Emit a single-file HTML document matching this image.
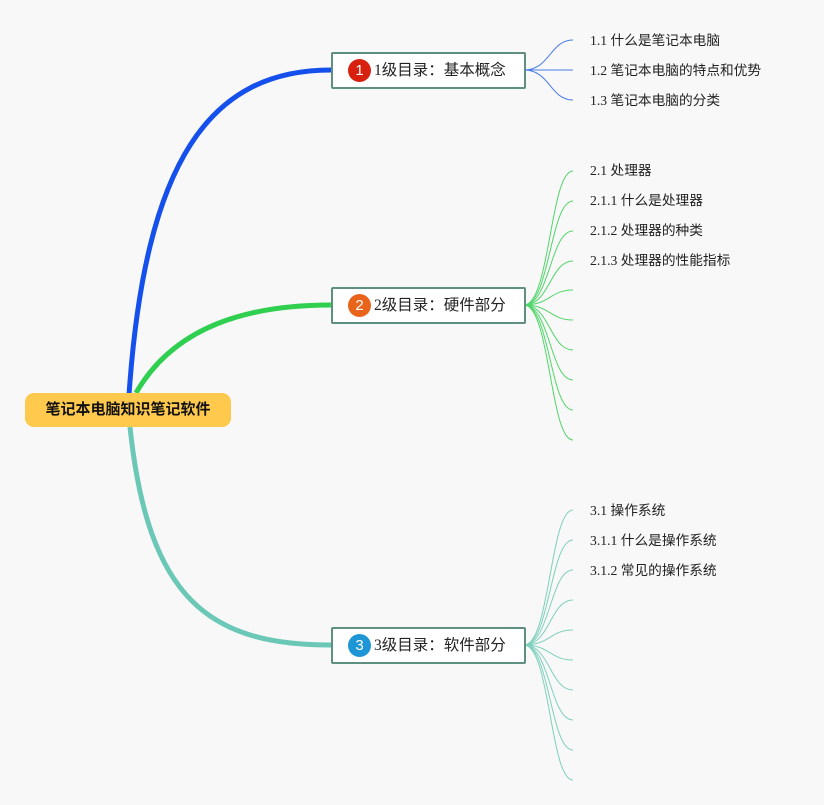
<!DOCTYPE html>
<html><head><meta charset="utf-8"><style>
body{margin:0;background:#f8f8f8;width:824px;height:805px;overflow:hidden;position:relative;font-family:"Liberation Serif","Noto Sans CJK SC",serif}
.root{position:absolute;left:25px;top:393px;width:206px;height:34px;background:#fec94c;border-radius:9px;font:bold 15px "Liberation Sans","Noto Sans CJK SC",sans-serif;line-height:34px;text-align:center;color:#111}
.b{position:absolute;left:331px;width:191px;height:33px;border:2px solid #5e8f80;border-radius:2px;background:#fff;font-size:15.5px;line-height:33px;color:#222;box-sizing:content-box}
.b span{position:absolute;left:15px;top:5px;width:23px;height:23px;border-radius:50%;color:#fff;font:15px "Liberation Sans",sans-serif;line-height:23px;text-align:center}
.b em{font-style:normal;position:absolute;left:41px}
.t{position:absolute;left:590px;font-size:13.7px;color:#222;line-height:16px}
</style></head><body>
<svg width="824" height="805" style="position:absolute;left:0;top:0" fill="none">
<path d="M129,395 C145,160 210,70 331,70" stroke="#1550ec" stroke-width="5"/>
<path d="M136,393 C175,325 250,305 331,305" stroke="#2fcf50" stroke-width="5"/>
<path d="M130,427 C148,600 210,645 331,645" stroke="#6cc8b6" stroke-width="5"/>
<g stroke="#4a7de8" stroke-width="1">
<path d="M524,70 C550,70 550,40 573,40"/><path d="M524,70 L573,70"/><path d="M524,70 C550,70 550,100 573,100"/>
</g>
<g stroke="#52d56a" stroke-width="1">
<path d="M524,305 C550,305 550,171 573,171"/><path d="M524,305 C550,305 550,201 573,201"/><path d="M524,305 C550,305 550,231 573,231"/><path d="M524,305 C550,305 550,261 573,261"/><path d="M524,305 C550,305 550,290 573,290"/><path d="M524,305 C550,305 550,320 573,320"/><path d="M524,305 C550,305 550,350 573,350"/><path d="M524,305 C550,305 550,380 573,380"/><path d="M524,305 C550,305 550,410 573,410"/><path d="M524,305 C550,305 550,440 573,440"/>
</g>
<g stroke="#7fd0bd" stroke-width="1">
<path d="M524,645 C550,645 550,510 573,510"/><path d="M524,645 C550,645 550,540 573,540"/><path d="M524,645 C550,645 550,570 573,570"/><path d="M524,645 C550,645 550,600 573,600"/><path d="M524,645 C550,645 550,630 573,630"/><path d="M524,645 C550,645 550,660 573,660"/><path d="M524,645 C550,645 550,690 573,690"/><path d="M524,645 C550,645 550,720 573,720"/><path d="M524,645 C550,645 550,750 573,750"/><path d="M524,645 C550,645 550,780 573,780"/>
</g>
</svg>
<div class="root">笔记本电脑知识笔记软件</div>
<div class="b" style="top:52px"><span style="background:#d8200e">1</span><em>1级目录：基本概念</em></div>
<div class="b" style="top:287px"><span style="background:#e8641a">2</span><em>2级目录：硬件部分</em></div>
<div class="b" style="top:627px"><span style="background:#1e96d6">3</span><em>3级目录：软件部分</em></div>
<div class="t" style="top:33px">1.1 什么是笔记本电脑</div>
<div class="t" style="top:63px">1.2 笔记本电脑的特点和优势</div>
<div class="t" style="top:93px">1.3 笔记本电脑的分类</div>
<div class="t" style="top:163px">2.1 处理器</div>
<div class="t" style="top:193px">2.1.1 什么是处理器</div>
<div class="t" style="top:223px">2.1.2 处理器的种类</div>
<div class="t" style="top:253px">2.1.3 处理器的性能指标</div>
<div class="t" style="top:503px">3.1 操作系统</div>
<div class="t" style="top:533px">3.1.1 什么是操作系统</div>
<div class="t" style="top:563px">3.1.2 常见的操作系统</div>
</body></html>
